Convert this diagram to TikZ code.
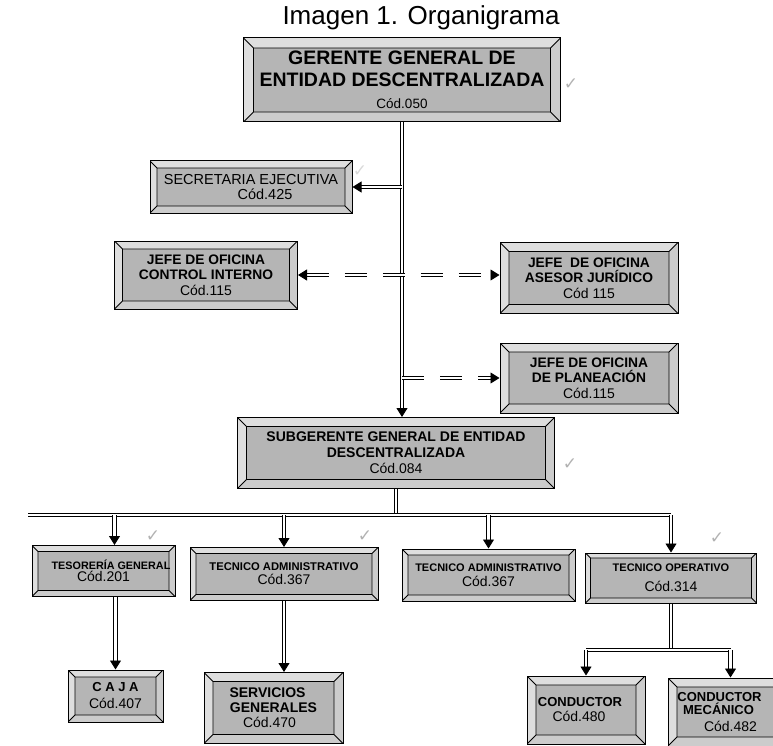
\documentclass[tikz,border=0pt]{standalone}
\usepackage{fontspec}
\setmainfont{Liberation Sans}
\newfontfamily\symfont{DejaVu Sans}
\usetikzlibrary{arrows.meta}

\definecolor{boxgray}{gray}{0.71}
\definecolor{bevlight}{gray}{0.87}
\definecolor{bevdark}{gray}{0.8}

\tikzset{
  bevsize/.store in=\bevsize, bevsize=9pt,
  orgbox/.style={draw, line width=1pt, fill=boxgray, inner sep=0pt, align=center,
    font=\bfseries,
    path picture={
      \path (path picture bounding box.north west) coordinate (pnw)
            (path picture bounding box.north east) coordinate (pne)
            (path picture bounding box.south east) coordinate (pse)
            (path picture bounding box.south west) coordinate (psw)
            ([shift={(\bevsize,-\bevsize)}]pnw) coordinate (qnw)
            ([shift={(-\bevsize,-\bevsize)}]pne) coordinate (qne)
            ([shift={(-\bevsize,\bevsize)}]pse) coordinate (qse)
            ([shift={(\bevsize,\bevsize)}]psw) coordinate (qsw);
      \fill[bevlight] (pnw) -- (pne) -- (qne) -- (qnw) -- cycle;
      \fill[bevlight] (pnw) -- (qnw) -- (qsw) -- (psw) -- cycle;
      \fill[bevdark] (pne) -- (pse) -- (qse) -- (qne) -- cycle;
      \fill[bevdark] (psw) -- (qsw) -- (qse) -- (pse) -- cycle;
      \draw[line width=0.8pt] (qnw) rectangle (qse)
        (pnw) -- (qnw) (pne) -- (qne) (pse) -- (qse) (psw) -- (qsw);
    }},
  dline/.style={draw, double, double distance=2.4pt, line width=0.9pt},
  arrowin/.style={-{Triangle[length=9pt,width=11pt]}},
  brokenline/.style={dash pattern=on 22pt off 16pt},
  chk/.style={font=\symfont\fontsize{17}{17}\selectfont, text=gray!60},
  title/.style={font=\fontsize{26}{28}\selectfont}
}

\begin{document}
\begin{tikzpicture}[x=1pt,y=-1pt]
  \useasboundingbox (0,0) rectangle (773,746);

  \node[title] (titulo) at (421,18) {Imagen 1. Organigrama};

  % cargos de direccion
  \node[orgbox, bevsize=10pt, minimum width=317pt, minimum height=84pt,
    font=\bfseries\fontsize{19.5}{22}\selectfont] (gerente) at (402,80)
    {GERENTE GENERAL DE\\ENTIDAD DESCENTRALIZADA\\{\mdseries\fontsize{13.5}{22}\selectfont Cód.050}};
  \node[orgbox, bevsize=7pt, minimum width=202pt, minimum height=52pt,
    font=\mdseries\fontsize{14.5}{15}\selectfont] (secretaria) at (251,187)
    {SECRETARIA EJECUTIVA\\\hspace*{28pt}Cód.425};
  \node[orgbox, bevsize=8pt, minimum width=183pt, minimum height=68pt,
    font=\bfseries\fontsize{13.8}{15.5}\selectfont] (control) at (206,275)
    {JEFE DE OFICINA\\CONTROL INTERNO\\{\mdseries\fontsize{14}{15.5}\selectfont Cód.115}};
  \node[orgbox, bevsize=9pt, minimum width=178pt, minimum height=71pt,
    font=\bfseries\fontsize{13.8}{15.5}\selectfont] (asesor) at (589,278)
    {JEFE\ \ DE OFICINA\\ASESOR JURÍDICO\\{\mdseries\fontsize{14}{15.5}\selectfont Cód 115}};
  \node[orgbox, bevsize=9pt, minimum width=178pt, minimum height=70pt,
    font=\bfseries\fontsize{13.8}{15.5}\selectfont] (planeacion) at (589,378)
    {JEFE DE OFICINA\\DE PLANEACIÓN\\{\mdseries\fontsize{14}{15.5}\selectfont Cód.115}};
  \node[orgbox, bevsize=9pt, minimum width=317pt, minimum height=71pt,
    font=\bfseries\fontsize{14}{16}\selectfont] (subgerente) at (396,453)
    {SUBGERENTE GENERAL DE ENTIDAD\\DESCENTRALIZADA\\{\mdseries\fontsize{14}{16}\selectfont Cód.084}};

  % cargos del nivel tecnico
  \node[orgbox, bevsize=6pt, minimum width=143pt, minimum height=51pt,
    font=\bfseries\fontsize{10.8}{12.5}\selectfont] (tesoreria) at (103.5,571)
    {\hspace*{15pt}TESORERÍA GENERAL\\{\mdseries\fontsize{14}{12.5}\selectfont Cód.201}};
  \node[orgbox, bevsize=6pt, minimum width=188pt, minimum height=53pt,
    font=\bfseries\fontsize{11.2}{14}\selectfont] (tecadmA) at (284,574)
    {TECNICO ADMINISTRATIVO\\{\mdseries\fontsize{14}{14}\selectfont Cód.367}};
  \node[orgbox, bevsize=6pt, minimum width=173pt, minimum height=52pt,
    font=\bfseries\fontsize{11}{15}\selectfont] (tecadmB) at (488.5,575)
    {TECNICO ADMINISTRATIVO\\{\mdseries\fontsize{14}{15}\selectfont Cód.367}};
  \node[orgbox, bevsize=5pt, minimum width=171pt, minimum height=50pt,
    font=\bfseries\fontsize{11}{20}\selectfont] (tecop) at (671,578)
    {TECNICO OPERATIVO\\{\mdseries\fontsize{14}{20}\selectfont Cód.314}};

  \node[orgbox, bevsize=7pt, minimum width=95pt, minimum height=52pt,
    font=\bfseries\fontsize{13}{17}\selectfont] (caja) at (115.5,696)
    {C A J A\\{\mdseries\fontsize{14}{17}\selectfont Cód.407}};
  \node[orgbox, bevsize=9pt, minimum width=139pt, minimum height=71pt,
    font=\bfseries\fontsize{14}{15}\selectfont] (servicios) at (273.5,708)
    {\hspace*{-12pt}SERVICIOS\\GENERALES\\{\mdseries\fontsize{14}{15}\selectfont\hspace*{-8pt}Cód.470}};
  \node[orgbox, bevsize=9pt, minimum width=118pt, minimum height=68pt,
    font=\bfseries\fontsize{13}{15}\selectfont] (conductor) at (586,710)
    {\hspace*{-12pt}CONDUCTOR\\{\mdseries\fontsize{14}{15}\selectfont\hspace*{-14pt}Cód.480}};
  \node[orgbox, bevsize=9pt, minimum width=125pt, minimum height=68pt,
    font=\bfseries\fontsize{13}{13}\selectfont] (mecanico) at (730.5,712)
    {\hspace*{-22pt}CONDUCTOR\\\hspace*{-24pt}MECÁNICO\\[4pt]{\mdseries\fontsize{14}{13}\selectfont Cód.482}};

  % vistos
  \node[chk] (chkA) at (571,84) {✓};
  \node[chk, text=gray!30] (chkB) at (360,171) {✓};
  \node[chk] (chkC) at (570,464) {✓};
  \node[chk] (chkD) at (153,536) {✓};
  \node[chk] (chkE) at (365,536) {✓};
  \node[chk] (chkF) at (717,538) {✓};

  % lineas de mando
  \draw[dline, arrowin] (gerente.south) -- (gerente.south |- subgerente.north);
  \draw[dline, arrowin] (gerente.south |- secretaria.east) -- (secretaria.east);
  \draw[dline, brokenline, {Triangle[length=9pt,width=11pt]}-{Triangle[length=9pt,width=11pt]}]
    (control.east) -- (control.east -| asesor.west);
  \draw[dline, brokenline, arrowin] (gerente.south |- planeacion.west) -- (planeacion.west);

  % barra del subgerente
  \coordinate (busL) at (28,515);
  \coordinate (busR) at (671,515);
  \coordinate (tesIn) at ([xshift=11pt]tesoreria.north);
  \draw[dline] (subgerente.south) -- (subgerente.south |- busL);
  \draw[dline] (busL) -- (busR);
  \draw[dline, arrowin] (tesIn |- busL) -- (tesIn);
  \draw[dline, arrowin] (tecadmA.north |- busL) -- (tecadmA.north);
  \draw[dline, arrowin] (tecadmB.north |- busL) -- (tecadmB.north);
  \draw[dline, arrowin] (tecop.north |- busL) -- (tecop.north);

  % dependencias
  \draw[dline, arrowin] (caja.north |- tesoreria.south) -- (caja.north);
  \draw[dline, arrowin] (tecadmA.south) -- (tecadmA.south |- servicios.north);
  \coordinate (opbus) at (671,650);
  \draw[dline] (tecop.south) -- (opbus);
  \draw[dline] (conductor.north |- opbus) -- (mecanico.north |- opbus);
  \draw[dline, arrowin] (conductor.north |- opbus) -- (conductor.north);
  \draw[dline, arrowin] (mecanico.north |- opbus) -- (mecanico.north);
\end{tikzpicture}
\end{document}
